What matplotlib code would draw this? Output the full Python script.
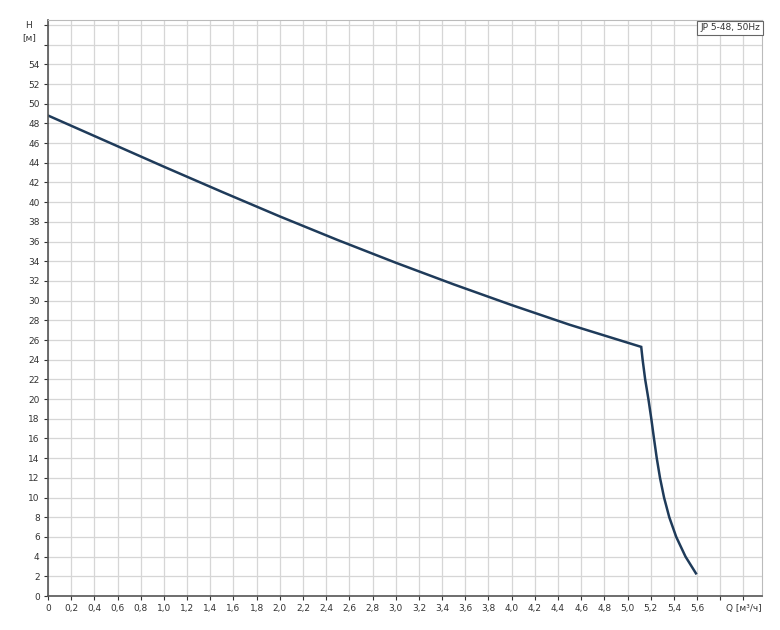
import matplotlib
matplotlib.use("Agg")
import matplotlib.pyplot as plt

# pump curve JP 5-48, 50Hz
q = [0.0, 0.5, 1.0, 1.5, 2.0, 2.5, 3.0, 3.5, 4.0, 4.5, 5.118,
     5.13, 5.152, 5.18, 5.205, 5.228, 5.252, 5.28, 5.315, 5.36, 5.42,
     5.50, 5.59]
h = [48.8, 46.2, 43.6, 41.05, 38.55, 36.15, 33.85, 31.65, 29.55, 27.55, 25.3,
     24.0, 22.0, 20.0, 18.0, 16.0, 14.0, 12.0, 10.0, 8.0, 6.0,
     4.0, 2.3]

xticks = [round(i * 0.2, 1) for i in range(31)]
xlabels = [str(t).replace('.', ',') if t > 0 else '0' for t in xticks]
xlabels[-2] = ''
xlabels[-1] = 'Q [м³/ч]'
yticks = list(range(0, 59, 2))
ylabels = [str(t) for t in yticks]
ylabels[-1] = ''
ylabels[-2] = ''

fig = plt.figure(figsize=(7.8, 6.3), dpi=100)
ax = fig.add_axes([48/780, 34/630, 714/780, 576/630])

ax.plot(q, h, color='#1f3b5a', lw=1.8, solid_joinstyle='miter')

ax.set_xlim(0, 6.16)
ax.set_ylim(0, 58.5)
ax.set_xticks(xticks)
ax.set_xticklabels(xlabels)
ax.set_yticks(yticks)
ax.set_yticklabels(ylabels)
ax.tick_params(labelsize=6.5, colors='#333333', length=3, width=0.8, pad=3)
ax.grid(True, color='#d6d6d6', lw=0.9)
ax.set_axisbelow(True)

for s in ['left', 'bottom']:
    ax.spines[s].set_color('#555555')
    ax.spines[s].set_linewidth(1.2)
for s in ['top', 'right']:
    ax.spines[s].set_color('#bbbbbb')
    ax.spines[s].set_linewidth(0.8)

ax.text(-0.027, 0.99, 'H', transform=ax.transAxes, fontsize=6.5,
        color='#333333', ha='center', va='center')
ax.text(-0.027, 0.97, '[м]', transform=ax.transAxes, fontsize=6.5,
        color='#333333', ha='center', va='center')

ax.text(0.997, 0.994, 'JP 5-48, 50Hz', transform=ax.transAxes, fontsize=6.5,
        color='#333333', ha='right', va='top',
        bbox=dict(boxstyle='square,pad=0.3', fc='white', ec='#666666', lw=0.8))

plt.savefig('out.png', dpi=100)
plt.close()
